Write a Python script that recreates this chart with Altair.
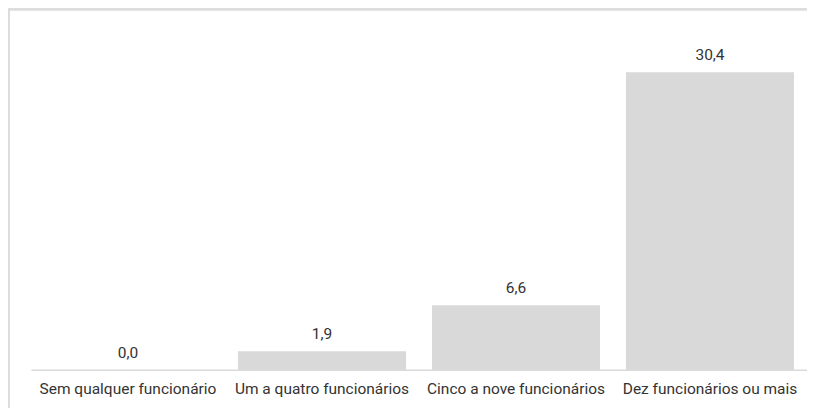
import altair as alt
import pandas as pd

categories = ["Sem qualquer funcionário", "Um a quatro funcionários",
              "Cinco a nove funcionários", "Dez funcionários ou mais"]
values = [0.0, 1.9, 6.6, 30.4]

df = pd.DataFrame({
    "cat": categories,
    "val": values,
    "lbl": [f"{v:.1f}".replace(".", ",") for v in values],
})

FONT = "Roboto"
TXT = "#333333"
FS = 15.5

x = alt.X("cat:N", sort=categories, title=None,
          scale=alt.Scale(paddingInner=0.134, paddingOuter=0.067),
          axis=alt.Axis(labelAngle=0, ticks=False, domainColor="#d9d9d9",
                        domainWidth=1.5, labelPadding=12, labelFontSize=FS,
                        labelFont=FONT, labelColor=TXT, labelLimit=300))
y = alt.Y("val:Q", title=None, scale=alt.Scale(domain=[0, 35]), axis=None)

bars = alt.Chart(df).mark_bar(color="#d9d9d9").encode(x=x, y=y)
text = alt.Chart(df).mark_text(baseline="alphabetic", dy=-12, fontSize=FS,
                               font=FONT, color=TXT).encode(x=x, y=y, text="lbl:N")

frame_top = alt.Chart(df).mark_rule(color="#dcdcdc", strokeWidth=2).encode(
    x=alt.value(-23), x2=alt.value(800), y=alt.value(-18))
frame_left = alt.Chart(df).mark_rule(color="#dcdcdc", strokeWidth=2).encode(
    x=alt.value(-22), y=alt.value(-19), y2=alt.value(400))

chart = alt.layer(frame_top, frame_left, bars, text).properties(
    width=777, height=343,
    autosize=alt.AutoSizeParams(type="none"),
    padding={"left": 23, "top": 19, "right": 0, "bottom": 40},
    background="white",
).configure_view(stroke=None)

chart.save("out.html", embed_options={"renderer": "svg", "actions": False})
